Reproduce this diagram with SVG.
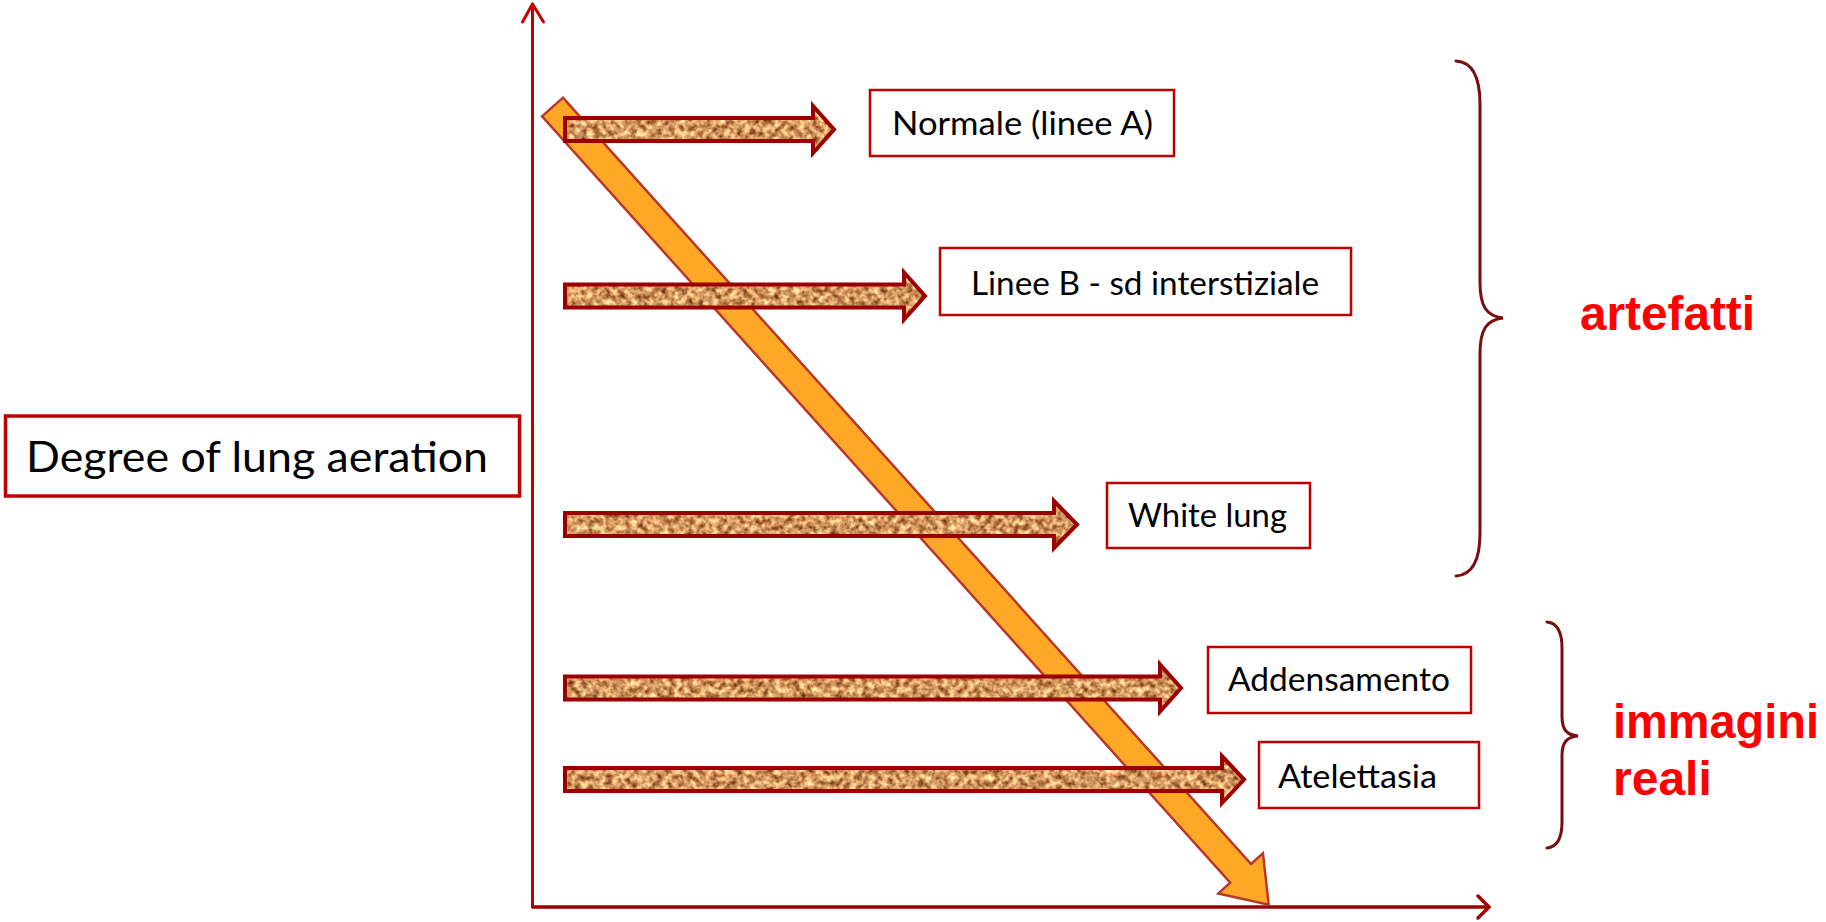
<svg xmlns="http://www.w3.org/2000/svg" xmlns:xlink="http://www.w3.org/1999/xlink" width="1826" height="922" viewBox="0 0 1826 922">
<style>
  .box { fill: #ffffff; stroke: #C00000; stroke-width: 2.5; }
  .lbl { font-family: Lato, "Noto Sans", "DejaVu Sans", sans-serif; font-size: 32px; fill: #000000; }
  .big { font-family: "Liberation Sans", Arial, sans-serif; font-weight: bold; font-size: 48px; fill: #FF0000; }
  .brace { fill: none; stroke: #7A0E0E; stroke-width: 3; stroke-linecap: round; }
  .axis { fill: none; stroke: #C00000; stroke-width: 3; stroke-linecap: round; stroke-linejoin: round; }
  .tex { fill: #C99A6C; filter: url(#cork); }
  .outline { fill: none; stroke: #9B0000; stroke-width: 4; stroke-linejoin: miter; }
  .orange { fill: #FFA726; stroke: #B8392B; stroke-width: 2.5; stroke-linejoin: miter; }
</style>
<defs>
  <filter id="cork" x="0" y="0" width="100%" height="100%" color-interpolation-filters="sRGB">
    <feTurbulence type="fractalNoise" baseFrequency="0.16" numOctaves="3" seed="7" result="n"/>
    <feColorMatrix in="n" type="matrix" values="1.1 0 0 0 0.28  1.2 0 0 0 0.0  1.0 0 0 0 -0.12  0 0 0 0 1" result="c"/>
    <feComposite in="c" in2="SourceGraphic" operator="in"/>
  </filter>
  <path id="a1" d="M565,118 L813,118 L813,106 L834,129.5 L813,153 L813,141 L565,141 Z"/>
  <path id="a2" d="M565,284.5 L904,284.5 L904,272.5 L925,296 L904,319.5 L904,307.5 L565,307.5 Z"/>
  <path id="a3" d="M565,513 L1054,513 L1054,501 L1077,524.5 L1054,548 L1054,536 L565,536 Z"/>
  <path id="a4" d="M565,676.5 L1160,676.5 L1160,664.5 L1181,688 L1160,711.5 L1160,699.5 L565,699.5 Z"/>
  <path id="a5" d="M565,768 L1222,768 L1222,756 L1244,779.5 L1222,803 L1222,791 L565,791 Z"/>
</defs>
<rect width="1826" height="922" fill="#ffffff"/>

<g id="connectors">
  <g id="y-axis">
    <line class="axis" x1="532.5" y1="907" x2="532.5" y2="4"/>
    <polyline class="axis" points="522.5,22 532.5,4 543.5,22"/>
  </g>
  <g id="x-axis">
    <line class="axis" x1="533" y1="907" x2="1489" y2="907" style="stroke:#A00000;stroke-width:3.5"/>
    <polyline class="axis" points="1478,896 1489,907 1478,918" style="stroke:#A00000;stroke-width:3.5"/>
  </g>
  <g id="orange-arrow">
    <polygon class="orange" transform="translate(552.5,107) rotate(48.08)" points="0,-14 1030,-14 1030,-30 1072,0 1030,30 1030,14 0,14"/>
  </g>
  <g id="arrow-normale"><use href="#a1" class="tex"/><use href="#a1" class="outline"/></g>
  <g id="arrow-lineeB"><use href="#a2" class="tex"/><use href="#a2" class="outline"/></g>
  <g id="arrow-whitelung"><use href="#a3" class="tex"/><use href="#a3" class="outline"/></g>
  <g id="arrow-addensamento"><use href="#a4" class="tex"/><use href="#a4" class="outline"/></g>
  <g id="arrow-atelettasia"><use href="#a5" class="tex"/><use href="#a5" class="outline"/></g>
</g>

<g id="degree">
  <rect class="box" x="5.5" y="416" width="514" height="80" style="stroke-width:3.5"/>
  <text class="lbl" x="26" y="472" style="font-size:42px" textLength="462" lengthAdjust="spacingAndGlyphs">Degree of lung aeration</text>
</g>
<g id="normale">
  <rect class="box" x="870" y="90" width="304" height="66"/>
  <text class="lbl" x="892" y="135" textLength="261" lengthAdjust="spacingAndGlyphs">Normale (linee A)</text>
</g>
<g id="lineeB">
  <rect class="box" x="940" y="248" width="411" height="67"/>
  <text class="lbl" x="971" y="295" textLength="348" lengthAdjust="spacingAndGlyphs">Linee B - sd interstiziale</text>
</g>
<g id="whitelung">
  <rect class="box" x="1107" y="483" width="203" height="65"/>
  <text class="lbl" x="1128" y="527" textLength="159" lengthAdjust="spacingAndGlyphs">White lung</text>
</g>
<g id="addensamento">
  <rect class="box" x="1208" y="647" width="263" height="66"/>
  <text class="lbl" x="1228" y="691" textLength="222" lengthAdjust="spacingAndGlyphs">Addensamento</text>
</g>
<g id="atelettasia">
  <rect class="box" x="1259" y="742" width="220" height="66"/>
  <text class="lbl" x="1278" y="788" textLength="159" lengthAdjust="spacingAndGlyphs">Atelettasia</text>
</g>

<g id="artefatti">
  <path class="brace" d="M1456,61 C1472,62 1480,76 1480,104 L1480,282 C1480,306 1486,316 1503,318 C1486,320 1480,330 1480,354 L1480,533 C1480,561 1472,575 1456,576"/>
  <text class="big" x="1580" y="330" textLength="175" lengthAdjust="spacingAndGlyphs">artefatti</text>
</g>
<g id="immagini-reali">
  <path class="brace" d="M1547,622 C1557,623 1562,631 1562,648 L1562,716 C1562,729 1566,735 1578,736 C1566,737 1562,743 1562,756 L1562,822 C1562,839 1557,847 1547,848"/>
  <text class="big" x="1613" y="738" textLength="206" lengthAdjust="spacingAndGlyphs">immagini</text>
  <text class="big" x="1613" y="795">reali</text>
</g>
</svg>
